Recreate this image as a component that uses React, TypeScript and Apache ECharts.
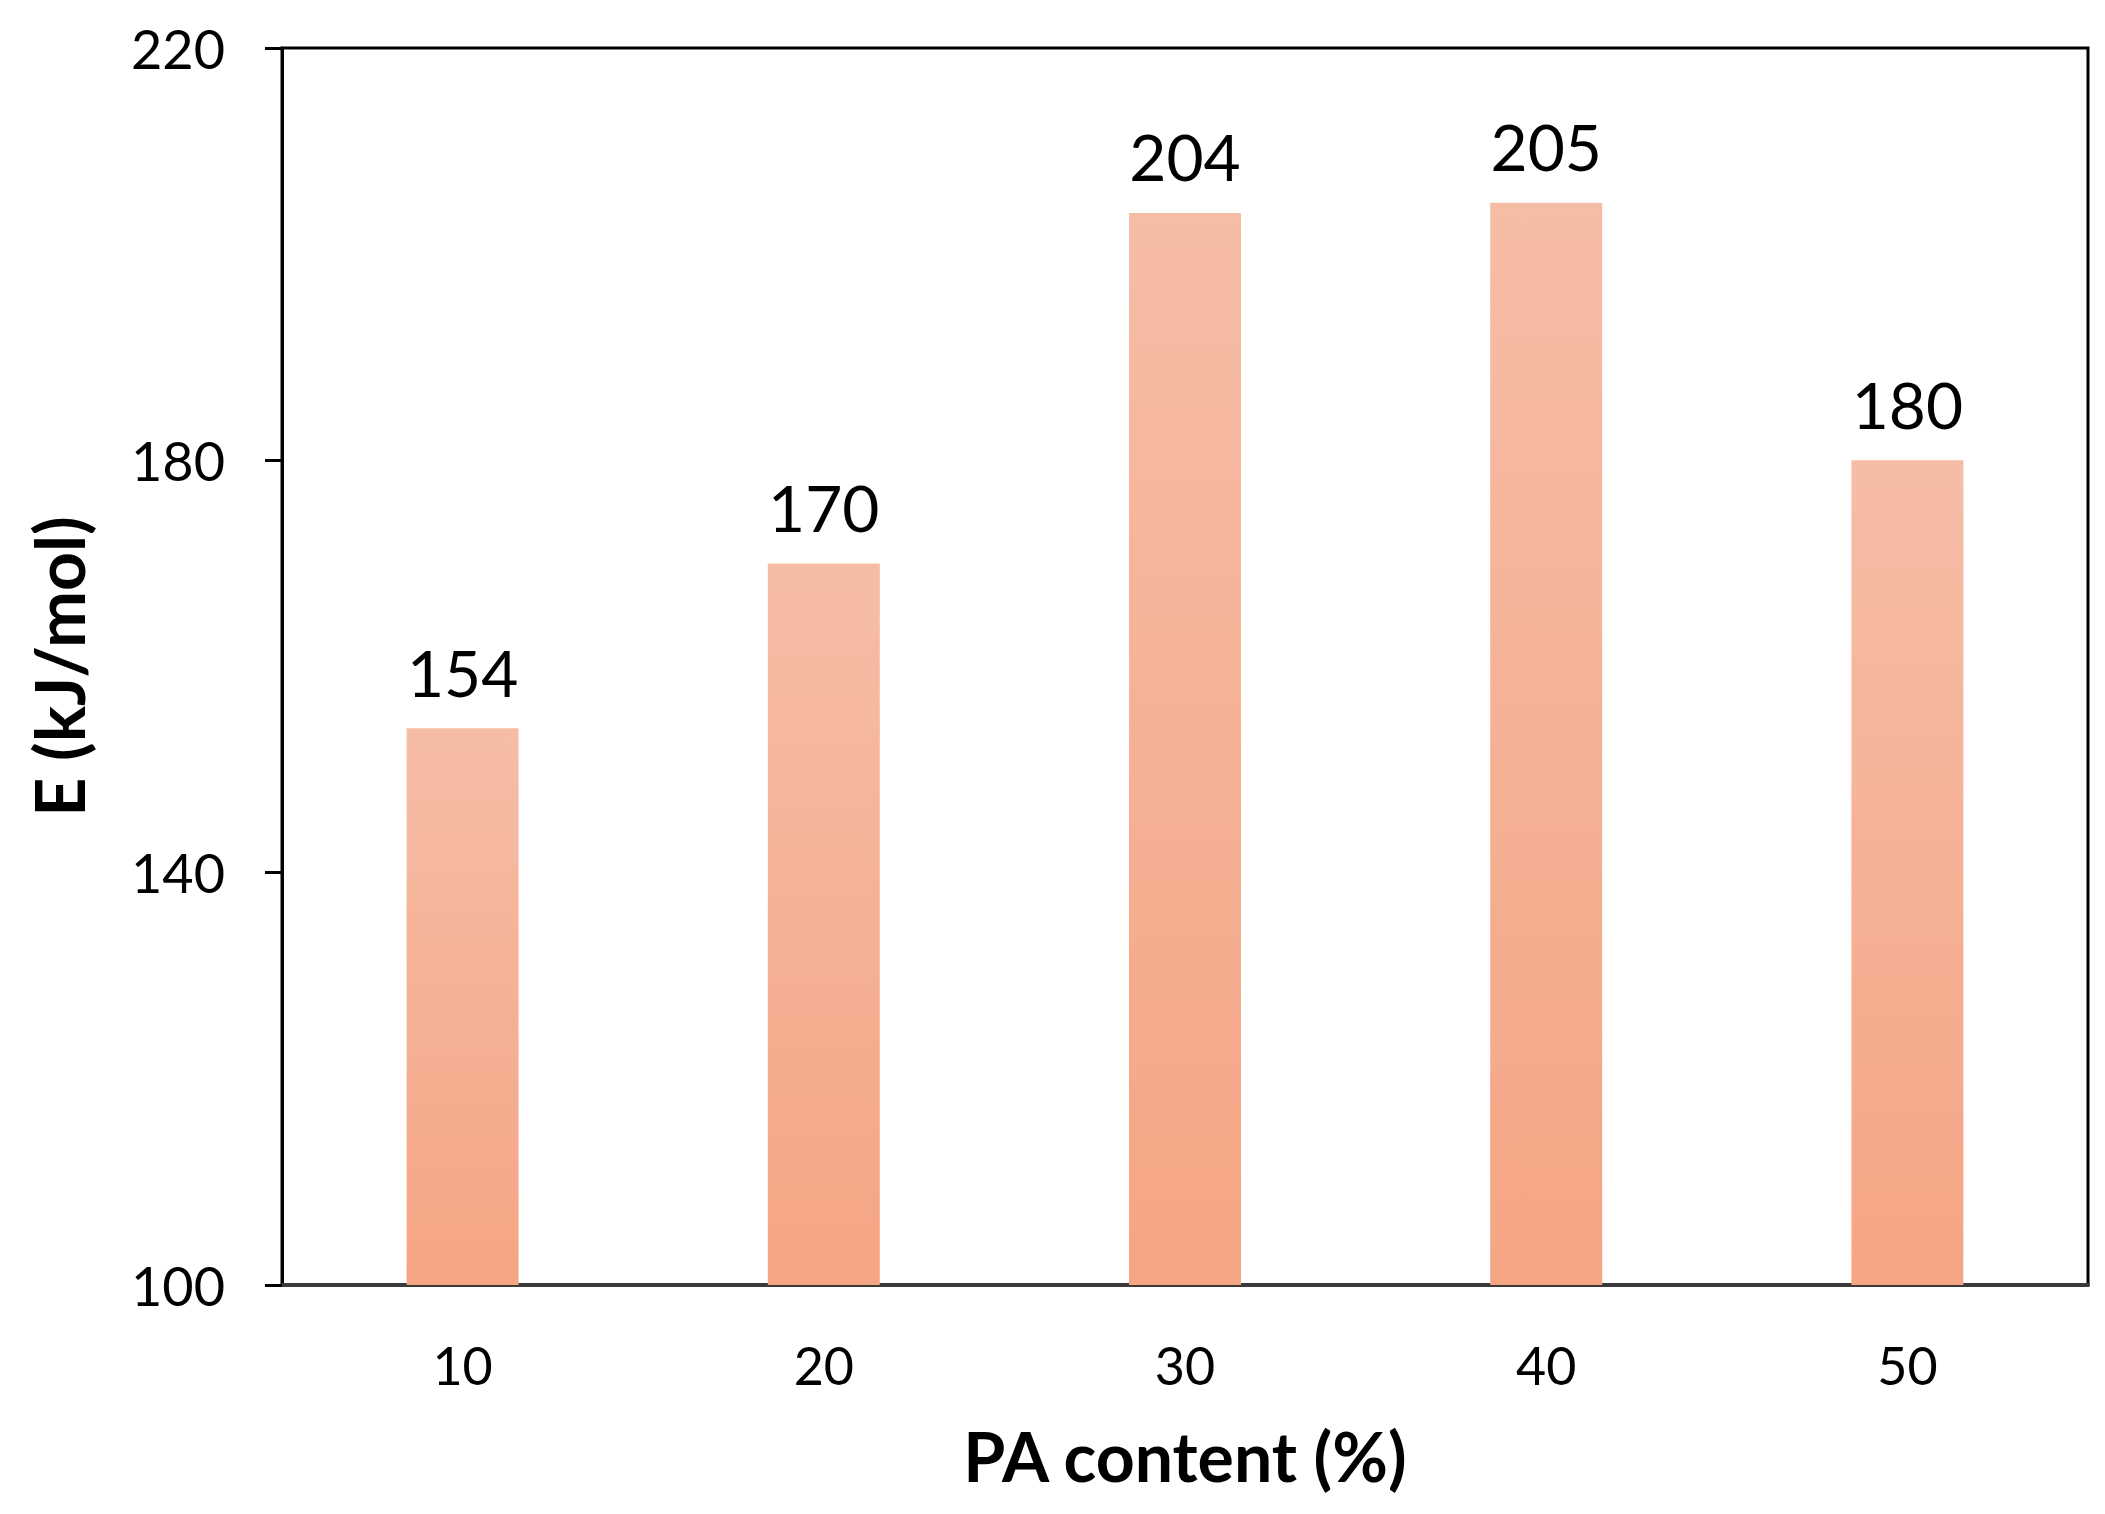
import React, { useEffect, useRef } from "react";
import * as echarts from "echarts";

const categories = ["10", "20", "30", "40", "50"];
const energyValues = [154, 170, 204, 205, 180];
const yTicks = [100, 140, 180, 220];
const xTitle = "PA content (%)";
const yTitle = "E (kJ/mol)";

const FONT = "Lato, 'Open Sans', sans-serif";

export default function App() {
  const ref = useRef<HTMLDivElement>(null);
  useEffect(() => {
    if (!ref.current) return;
    const chart = echarts.init(ref.current, undefined, { renderer: "svg" });
    chart.setOption({
      animation: false,
      backgroundColor: "#ffffff",
      grid: {
        left: 282,
        right: 17,
        top: 48,
        bottom: 229,
        show: true,
        borderColor: "#000000",
        borderWidth: 3,
        backgroundColor: "transparent",
      },
      xAxis: {
        type: "category",
        data: categories,
        axisLine: { show: true, lineStyle: { color: "#3a3a3a", width: 4 } },
        axisTick: { show: false },
        axisLabel: { color: "#000", fontSize: 52, fontFamily: FONT, margin: 54 },
        name: xTitle,
        nameLocation: "middle",
        nameGap: 136,
        nameTextStyle: { color: "#000", fontSize: 68, fontWeight: "bold", fontFamily: FONT },
      },
      yAxis: {
        type: "value",
        min: yTicks[0],
        max: yTicks[yTicks.length - 1],
        interval: yTicks[1] - yTicks[0],
        axisLine: { show: true, lineStyle: { color: "#000", width: 3 } },
        axisTick: { show: true, inside: false, length: 17, lineStyle: { color: "#000", width: 3 } },
        splitLine: { show: false },
        axisLabel: { color: "#000", fontSize: 54, fontFamily: FONT, margin: 57 },
        name: yTitle,
        nameLocation: "middle",
        nameGap: 190,
        nameTextStyle: { color: "#000", fontSize: 68, fontWeight: "bold", fontFamily: FONT },
      },
      series: [
        {
          type: "bar",
          data: energyValues,
          barWidth: "31%",
          itemStyle: {
            color: new echarts.graphic.LinearGradient(0, 0, 0, 1, [
              { offset: 0, color: "#F6BDA6" },
              { offset: 1, color: "#F5A584" },
            ]),
          },
          label: {
            show: true,
            position: "top",
            distance: 24,
            color: "#000",
            fontSize: 64,
            fontFamily: FONT,
          },
        },
      ],
    });
    return () => chart.dispose();
  }, []);
  return (
    <div
      ref={ref}
      style={{ position: "absolute", left: 0, top: 0, width: 2105, height: 1514 }}
    />
  );
}
